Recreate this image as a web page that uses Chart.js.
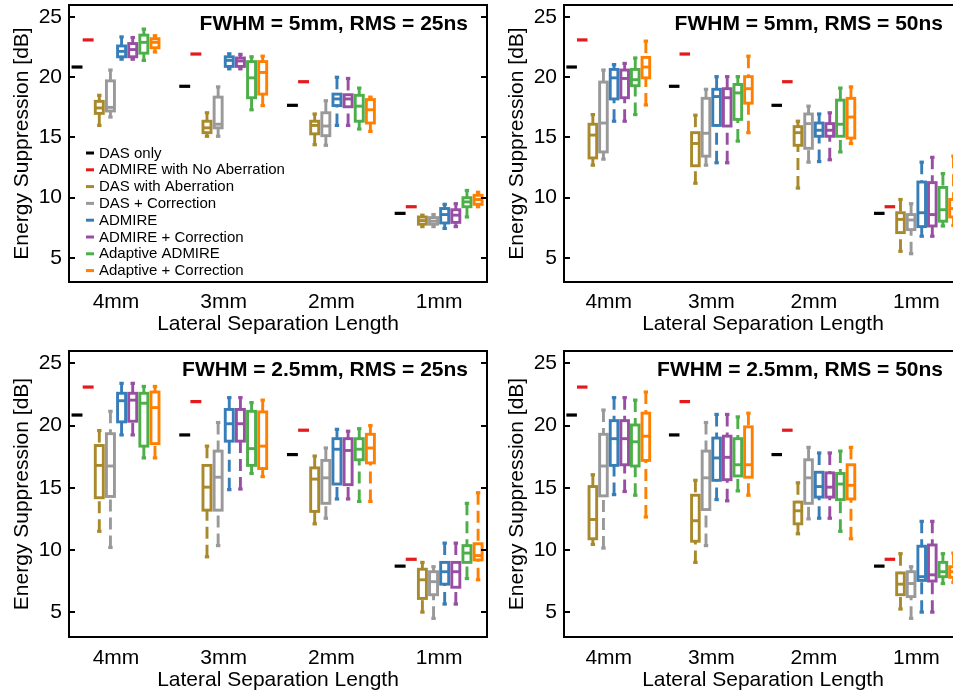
<!DOCTYPE html>
<html>
<head>
<meta charset="utf-8">
<script src="https://cdn.jsdelivr.net/npm/chart.js@4.4.1/dist/chart.umd.min.js"></script>
<style>
  html, body { margin: 0; padding: 0; background: #ffffff; overflow: hidden; }
  #page { position: relative; width: 953px; height: 694px; overflow: hidden; background: #ffffff; }
  canvas { position: absolute; }
</style>
</head>
<body>
<div id="page">
  <canvas id="panelA" width="490" height="346" style="left:0px;top:0px;width:490px;height:346px"></canvas>
  <canvas id="panelB" width="470" height="346" style="left:495px;top:0px;width:470px;height:346px"></canvas>
  <canvas id="panelC" width="490" height="348" style="left:0px;top:346px;width:490px;height:348px"></canvas>
  <canvas id="panelD" width="470" height="348" style="left:495px;top:346px;width:470px;height:348px"></canvas>
</div>
<script>
// ---------- data ----------
const categories = ['4mm', '3mm', '2mm', '1mm'];
const seriesNames = ['DAS only', 'ADMIRE with No Aberration', 'DAS with Aberration', 'DAS + Correction',
                     'ADMIRE', 'ADMIRE + Correction', 'Adaptive ADMIRE', 'Adaptive + Correction'];
const seriesColors = ['#000000', '#e41a1c', '#a8892b', '#999999', '#377eb8', '#984ea3', '#4daf4a', '#ff7f00'];
const yTickValues = [5, 10, 15, 20, 25];
const panelTitles = ['FWHM = 5mm, RMS = 25ns', 'FWHM = 5mm, RMS = 50ns',
                     'FWHM = 2.5mm, RMS = 25ns', 'FWHM = 2.5mm, RMS = 50ns'];

// single reference values (no aberration), one per separation
const dasOnly = [20.85, 19.25, 17.67, 8.7];
const admireNoAberration = [23.1, 21.93, 19.63, 9.25];

// box summaries: [lower whisker, Q1, median, Q3, upper whisker] for 4mm, 3mm, 2mm, 1mm
// FWHM = 5mm, RMS = 25ns
const a_das          = [[16.0, 17.0, 17.45, 18.0, 18.5], [15.1, 15.4, 15.8, 16.35, 17.05], [14.4, 15.3, 16.0, 16.35, 16.95], [7.6, 7.8, 8.1, 8.4, 8.55]];
const a_dasCorr      = [[16.7, 17.2, 17.5, 19.7, 20.6], [15.1, 15.8, 16.1, 18.35, 19.2], [14.35, 15.15, 15.95, 17.05, 18.05], [7.6, 7.8, 8.05, 8.35, 8.6]];
const a_admire       = [[21.5, 21.7, 22.15, 22.6, 23.35], [20.7, 20.9, 21.4, 21.7, 21.95], [16.0, 17.65, 18.2, 18.6, 20.0], [7.45, 7.9, 8.6, 9.1, 9.45]];
const a_admireCorr   = [[21.5, 21.7, 22.3, 22.8, 23.3], [20.7, 20.9, 21.35, 21.6, 21.9], [16.0, 17.55, 18.2, 18.55, 19.9], [7.6, 7.95, 8.55, 9.0, 9.5]];
const a_adaptive     = [[21.4, 22.0, 22.9, 23.5, 24.0], [17.3, 18.3, 19.95, 21.3, 21.7], [15.7, 16.35, 17.6, 18.5, 19.1], [8.4, 9.25, 9.65, 10.0, 10.6]];
const a_adaptiveCorr = [[22.1, 22.45, 22.9, 23.2, 23.45], [17.65, 18.6, 20.4, 21.3, 21.75], [15.5, 16.2, 17.3, 18.15, 18.35], [9.25, 9.45, 9.85, 10.2, 10.45]];

// FWHM = 5mm, RMS = 50ns
const b_das          = [[12.7, 13.3, 15.2, 16.1, 16.9], [11.2, 12.65, 14.5, 15.4, 16.85], [10.8, 14.35, 15.4, 15.9, 16.35], [5.55, 7.1, 8.2, 8.75, 9.85]];
const b_dasCorr      = [[13.2, 13.8, 16.2, 19.6, 20.6], [12.7, 13.45, 15.35, 18.25, 19.0], [12.95, 14.1, 16.15, 16.95, 17.6], [5.35, 7.35, 8.15, 8.6, 9.5]];
const b_admire       = [[16.35, 18.2, 19.95, 20.65, 21.05], [12.9, 16.0, 18.4, 19.0, 20.05], [13.0, 15.1, 15.6, 16.2, 16.95], [6.8, 7.6, 8.75, 11.3, 12.95]];
const b_admireCorr   = [[16.35, 18.3, 19.9, 20.6, 21.15], [12.9, 15.95, 18.3, 19.05, 20.05], [13.15, 15.1, 15.6, 16.15, 17.05], [6.8, 7.65, 8.6, 11.25, 13.35]];
const b_adaptive     = [[16.9, 19.3, 19.8, 20.65, 21.6], [14.7, 16.5, 18.7, 19.4, 20.05], [13.8, 15.1, 16.1, 18.1, 19.1], [7.65, 8.05, 9.0, 10.85, 12.0]];
const b_adaptiveCorr = [[17.7, 19.95, 20.85, 21.65, 23.0], [15.4, 17.85, 19.05, 20.05, 21.75], [14.5, 14.95, 16.7, 18.25, 19.2], [7.7, 8.4, 9.1, 9.85, 13.45]];

// FWHM = 2.5mm, RMS = 25ns
const c_das          = [[11.5, 14.2, 16.8, 18.4, 19.6], [9.45, 13.2, 15.05, 16.8, 18.35], [12.1, 13.1, 15.7, 16.6, 17.55], [5.0, 6.1, 7.6, 8.45, 9.0]];
const c_dasCorr      = [[10.2, 14.3, 16.75, 19.35, 21.15], [10.35, 13.2, 15.85, 17.95, 20.25], [12.55, 13.75, 15.8, 17.2, 18.2], [4.5, 6.4, 7.45, 8.25, 8.65]];
const c_admire       = [[19.25, 20.3, 22.0, 22.6, 23.4], [14.85, 18.75, 20.15, 21.3, 22.25], [14.1, 15.3, 18.1, 18.95, 19.7], [5.65, 7.25, 8.25, 9.0, 10.55]];
const c_admireCorr   = [[19.25, 20.35, 22.05, 22.6, 23.4], [14.9, 18.75, 20.15, 21.3, 22.25], [14.1, 15.25, 18.0, 18.95, 19.55], [5.65, 7.0, 8.25, 9.0, 10.55]];
const c_adaptive     = [[17.4, 18.35, 21.8, 22.6, 23.15], [16.15, 16.8, 18.15, 21.15, 21.85], [13.9, 17.25, 18.1, 18.95, 19.75], [7.7, 9.0, 9.75, 10.35, 13.75]];
const c_adaptiveCorr = [[17.4, 18.55, 21.45, 22.7, 23.15], [15.9, 16.55, 18.35, 21.1, 22.05], [13.9, 17.0, 18.2, 19.3, 20.0], [7.6, 9.2, 9.55, 10.5, 14.6]];

// FWHM = 2.5mm, RMS = 50ns
const d_das          = [[10.45, 10.9, 12.45, 15.1, 16.05], [9.0, 10.7, 12.35, 14.4, 15.6], [11.3, 12.1, 13.15, 13.85, 15.4], [5.25, 6.4, 7.25, 8.15, 9.7]];
const d_dasCorr      = [[10.15, 14.35, 16.75, 19.3, 21.25], [10.35, 13.25, 15.8, 17.95, 20.25], [12.5, 13.75, 15.8, 17.25, 18.25], [4.5, 6.25, 7.3, 8.25, 8.65]];
const d_admire       = [[14.45, 16.8, 18.95, 20.4, 22.25], [14.05, 15.6, 17.4, 19.0, 20.9], [12.55, 14.25, 15.1, 16.25, 17.8], [5.0, 7.55, 7.85, 10.3, 12.3]];
const d_admireCorr   = [[14.7, 16.85, 18.95, 20.4, 22.25], [13.95, 15.65, 17.45, 19.15, 20.9], [12.55, 14.25, 15.05, 16.2, 17.8], [5.0, 7.5, 8.0, 10.4, 12.3]];
const d_adaptive     = [[14.4, 16.75, 18.7, 20.05, 22.05], [14.75, 15.95, 16.85, 18.95, 20.7], [11.5, 14.05, 15.3, 16.15, 17.95], [7.3, 7.85, 8.25, 9.0, 9.7]];
const d_adaptiveCorr = [[12.65, 17.2, 19.15, 21.0, 22.7], [14.4, 15.85, 16.85, 19.9, 21.0], [10.9, 14.1, 15.2, 16.85, 18.25], [7.4, 7.8, 8.25, 8.65, 9.75]];

// ---------- layout constants ----------
const GROUP_STEP = 9.67;        // x distance between separation groups (in box slots)
const X_MIN = -0.72, X_MAX = 36.81;
const Y_MIN = 3, Y_MAX = 26;
const BOX_HALF = 0.36;          // half box width, in box slots
const LINE_W = 2.9;
const FONT = "'Liberation Sans', Arial, Helvetica, sans-serif";

Chart.defaults.font.family = FONT;
Chart.defaults.color = '#000000';

const slot = (g, i) => g * GROUP_STEP + i;
const groupCenters = categories.map((c, g) => slot(g, 3.5));

// Box-and-whisker drawing through the chart's own scales
const boxPlotPlugin = {
  id: 'boxPlot',
  afterDatasetsDraw(chart) {
    const { ctx, scales: { x, y } } = chart;
    const unit = x.getPixelForValue(1) - x.getPixelForValue(0);
    const hw = BOX_HALF * unit;
    ctx.save();
    chart.data.datasets.forEach((ds, s) => {
      const color = ds.borderColor;
      ds.stats.forEach((st, g) => {
        const px = x.getPixelForValue(slot(g, s));
        ctx.strokeStyle = color;
        ctx.fillStyle = color;
        ctx.lineWidth = LINE_W;
        ctx.lineCap = 'butt';
        if (typeof st === 'number') {
          const py = y.getPixelForValue(st);
          ctx.fillRect(px - hw - LINE_W / 2, py - 1.6, 2 * hw + LINE_W, 3.2);
          return;
        }
        const [lo, q1, med, q3, hi] = st.map(v => y.getPixelForValue(v));
        // dashed whiskers, drawn from the extreme towards the box
        ctx.setLineDash([12, 6]);
        ctx.beginPath();
        ctx.moveTo(px, hi); ctx.lineTo(px, q3);
        ctx.stroke();
        ctx.beginPath();
        ctx.moveTo(px, lo); ctx.lineTo(px, q1);
        ctx.stroke();
        ctx.setLineDash([]);
        // whisker caps
        ctx.fillRect(px - 2.2, hi - 1.6, 4.4, 3.2);
        ctx.fillRect(px - 2.2, lo - 1.6, 4.4, 3.2);
        // box
        ctx.fillStyle = '#ffffff';
        ctx.fillRect(px - hw, q3, 2 * hw, q1 - q3);
        ctx.strokeRect(px - hw, q3, 2 * hw, q1 - q3);
        // median
        ctx.beginPath();
        ctx.moveTo(px - hw, med); ctx.lineTo(px + hw, med);
        ctx.stroke();
      });
    });
    ctx.restore();
  }
};

// Frame, inward tick marks, panel heading and legend
const panelDecorPlugin = {
  id: 'panelDecor',
  afterDraw(chart, args, opts) {
    const { ctx, chartArea: a, scales: { y } } = chart;
    ctx.save();
    ctx.strokeStyle = '#000000';
    ctx.lineWidth = 2;
    ctx.strokeRect(a.left, a.top, a.right - a.left, a.bottom - a.top);
    ctx.beginPath();
    yTickValues.forEach(v => {
      const py = Math.round(y.getPixelForValue(v));
      ctx.moveTo(a.left, py); ctx.lineTo(a.left + 6, py);
      ctx.moveTo(a.right, py); ctx.lineTo(a.right - 6, py);
    });
    ctx.stroke();

    ctx.fillStyle = '#000000';
    ctx.font = 'bold 21px ' + FONT;
    ctx.textAlign = 'right';
    ctx.textBaseline = 'alphabetic';
    ctx.fillText(opts.heading, a.right - 19, a.top + 24.5);

    if (opts.legend) {
      ctx.font = '15px ' + FONT;
      ctx.textAlign = 'left';
      ctx.textBaseline = 'middle';
      seriesNames.forEach((name, i) => {
        const cy = opts.legendTop + i * 16.8;
        ctx.fillStyle = seriesColors[i];
        ctx.fillRect(a.left + 17, cy - 1.5, 8, 3);
        ctx.fillStyle = '#000000';
        ctx.fillText(name, a.left + 30, cy + 0.5);
      });
    }
    ctx.restore();
  }
};

function buildPanel(canvasId, heading, series, geom) {
  const stats = [dasOnly, admireNoAberration].concat(series);
  const datasets = seriesNames.map((name, s) => ({
    label: name,
    stats: stats[s],
    borderColor: seriesColors[s],
    backgroundColor: seriesColors[s],
    pointRadius: 0,
    data: stats[s].map((st, g) => ({ x: slot(g, s), y: typeof st === 'number' ? st : st[2] }))
  }));
  return new Chart(document.getElementById(canvasId), {
    type: 'scatter',
    data: { datasets },
    options: {
      responsive: false,
      animation: false,
      events: [],
      layout: { padding: { top: 5, right: 3, left: 0, bottom: 0 } },
      plugins: {
        legend: { display: false },
        tooltip: { enabled: false },
        panelDecor: { heading, legend: geom.legend, legendTop: 153 }
      },
      scales: {
        x: {
          type: 'linear', min: X_MIN, max: X_MAX,
          afterBuildTicks: s => { s.ticks = groupCenters.map(v => ({ value: v })); },
          afterFit: s => { s.height = geom.xHeight; s.paddingLeft = 0; s.paddingRight = 0; },
          ticks: { autoSkip: false, maxRotation: 0, padding: geom.tickPad, font: { size: 21 },
                   callback: (v, i) => categories[i] },
          grid: { display: false, drawTicks: false },
          border: { display: false },
          title: { display: true, text: 'Lateral Separation Length', font: { size: 21 },
                   padding: { top: 0, bottom: geom.titlePad } }
        },
        y: {
          type: 'linear', min: Y_MIN, max: Y_MAX,
          afterBuildTicks: s => { s.ticks = yTickValues.map(v => ({ value: v })); },
          afterFit: s => { s.width = 69; s.paddingTop = 0; s.paddingBottom = 0; },
          ticks: { padding: 7, font: { size: 21 }, callback: v => String(v) },
          grid: { display: false, drawTicks: false },
          border: { display: false },
          title: { display: true, text: 'Energy Suppression [dB]', font: { size: 21 },
                   padding: { top: 9.4, bottom: 0 } }
        }
      }
    },
    plugins: [boxPlotPlugin, panelDecorPlugin]
  });
}

const topGeom = { xHeight: 64, tickPad: 7.4, titlePad: 9.4, legend: false };
const bottomGeom = { xHeight: 57, tickPad: 8.4, titlePad: 1.4, legend: false };

buildPanel('panelA', panelTitles[0], [a_das, a_dasCorr, a_admire, a_admireCorr, a_adaptive, a_adaptiveCorr],
           Object.assign({}, topGeom, { legend: true }));
buildPanel('panelB', panelTitles[1], [b_das, b_dasCorr, b_admire, b_admireCorr, b_adaptive, b_adaptiveCorr], topGeom);
buildPanel('panelC', panelTitles[2], [c_das, c_dasCorr, c_admire, c_admireCorr, c_adaptive, c_adaptiveCorr], bottomGeom);
buildPanel('panelD', panelTitles[3], [d_das, d_dasCorr, d_admire, d_admireCorr, d_adaptive, d_adaptiveCorr], bottomGeom);
</script>
</body>
</html>
